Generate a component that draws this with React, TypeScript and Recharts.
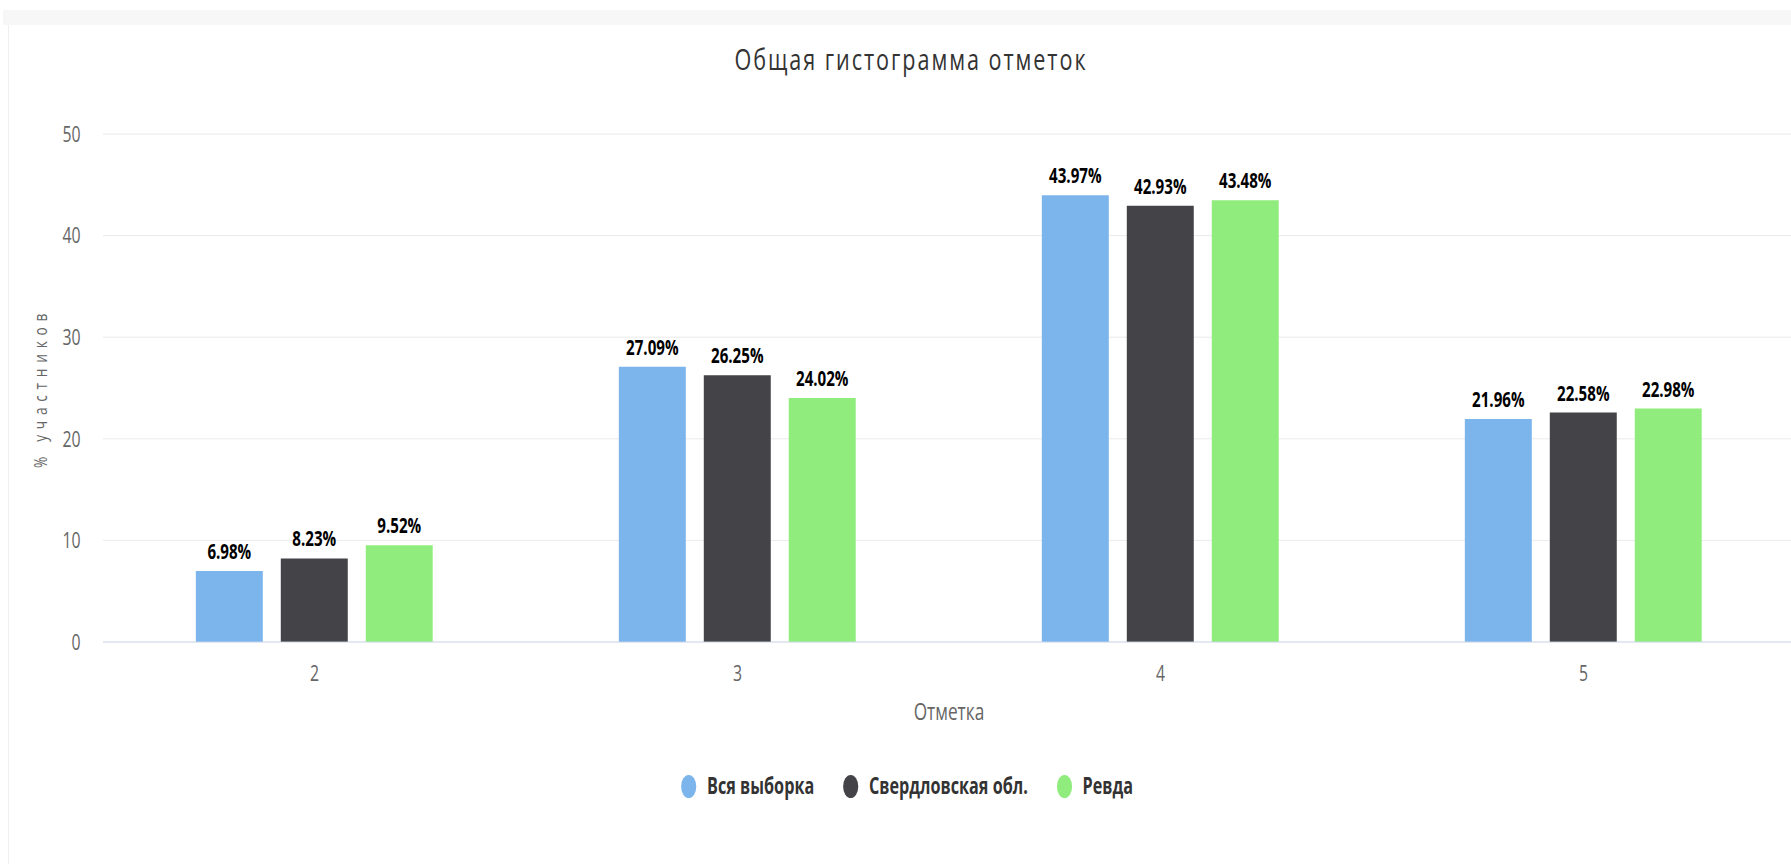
import React from 'react';
import { BarChart, Bar, XAxis, YAxis, CartesianGrid, Legend, LabelList } from 'recharts';

// grades on the x axis and the share of participants (%) for each group
const grades = ['2', '3', '4', '5'];
const allSample = [6.98, 27.09, 43.97, 21.96];
const sverdlovsk = [8.23, 26.25, 42.93, 22.58];
const revda = [9.52, 24.02, 43.48, 22.98];
const yTicks = [0, 10, 20, 30, 40, 50];

const seriesNames = ['Вся выборка', 'Свердловская обл.', 'Ревда'];
const seriesKeys = ['all', 'sverd', 'revda'];
const seriesColors = ['#7cb5ec', '#434348', '#90ed7d'];

const data = grades.map((g, i) => ({
  grade: g,
  all: allSample[i],
  sverd: sverdlovsk[i],
  revda: revda[i],
}));

// the reference uses a condensed face, so the chart is drawn wide and squeezed
const K = 0.72;
const CW = 2510;
const FONT = '"Open Sans", "DejaVu Sans", sans-serif';

const fmt = (v: any) => Number(v).toFixed(2) + '%';

const renderLegend = () => (
  <div style={{ display: 'flex', alignItems: 'center', paddingLeft: 946, height: 30 }}>
    {seriesNames.map((name, i) => (
      <div key={name} style={{ display: 'flex', alignItems: 'center', marginRight: 40 }}>
        <span style={{ display: 'inline-block', width: 21, height: 23, borderRadius: '50%', background: seriesColors[i] }} />
        <span style={{ marginLeft: 15, fontSize: 22.5, fontWeight: 700, color: '#333333', lineHeight: '30px' }}>{name}</span>
      </div>
    ))}
  </div>
);

export default function App() {
  return (
    <div style={{ position: 'absolute', left: 0, top: 0, width: 1791, height: 864, overflow: 'hidden', background: '#fff', fontFamily: FONT }}>
      <div style={{ position: 'absolute', left: 3, right: 0, top: 10, height: 15, background: '#f7f7f7' }} />
      <div style={{ position: 'absolute', left: 8, top: 25, bottom: 0, width: 1, background: '#f0f0f0' }} />

      <div style={{ position: 'absolute', left: 0, top: 0, width: CW, height: 864, transform: `scaleX(${K})`, transformOrigin: '0 0' }}>
        <BarChart width={CW} height={864} data={data} margin={{ top: 134, right: 17, left: 0, bottom: 192 }} barSize={93} barGap={25}>
          <CartesianGrid vertical={false} stroke="#e6e6e6" />
          <XAxis
            dataKey="grade"
            height={30}
            tickLine={false}
            tickSize={0}
            tickMargin={23}
            axisLine={{ stroke: '#ccd6eb' }}
            tick={{ fill: '#666666', fontSize: 22 }}
            label={{ value: 'Отметка', position: 'bottom', offset: 31, fill: '#666666', fontSize: 24 }}
          />
          <YAxis
            width={143}
            domain={[0, 50]}
            ticks={yTicks}
            axisLine={false}
            tickLine={false}
            tickSize={0}
            tickMargin={31}
            tick={{ fill: '#666666', fontSize: 22 }}
          />
          <Legend
            layout="horizontal"
            verticalAlign="middle"
            align="center"
            wrapperStyle={{ top: 771, left: 0, width: CW }}
            content={renderLegend}
          />
          {seriesKeys.map((k, i) => (
            <Bar key={k} dataKey={k} name={seriesNames[i]} fill={seriesColors[i]} isAnimationActive={false}>
              <LabelList dataKey={k} position="top" offset={12} formatter={fmt} fill="#000000" fontSize={21} fontWeight={700} />
            </Bar>
          ))}
        </BarChart>
      </div>

      <div style={{ position: 'absolute', left: 911, top: 44, fontSize: 30, lineHeight: '30px', color: '#333333', whiteSpace: 'nowrap', letterSpacing: 2.7, transform: `translateX(-50%) scaleX(${K})` }}>
        Общая гистограмма отметок
      </div>
      <div style={{ position: 'absolute', left: 40, top: 388, fontSize: 19, lineHeight: '19px', color: '#666666', whiteSpace: 'nowrap', letterSpacing: 8, transform: `translate(-50%, -50%) rotate(-90deg) scaleX(${K})` }}>
        % участников
      </div>
    </div>
  );
}
